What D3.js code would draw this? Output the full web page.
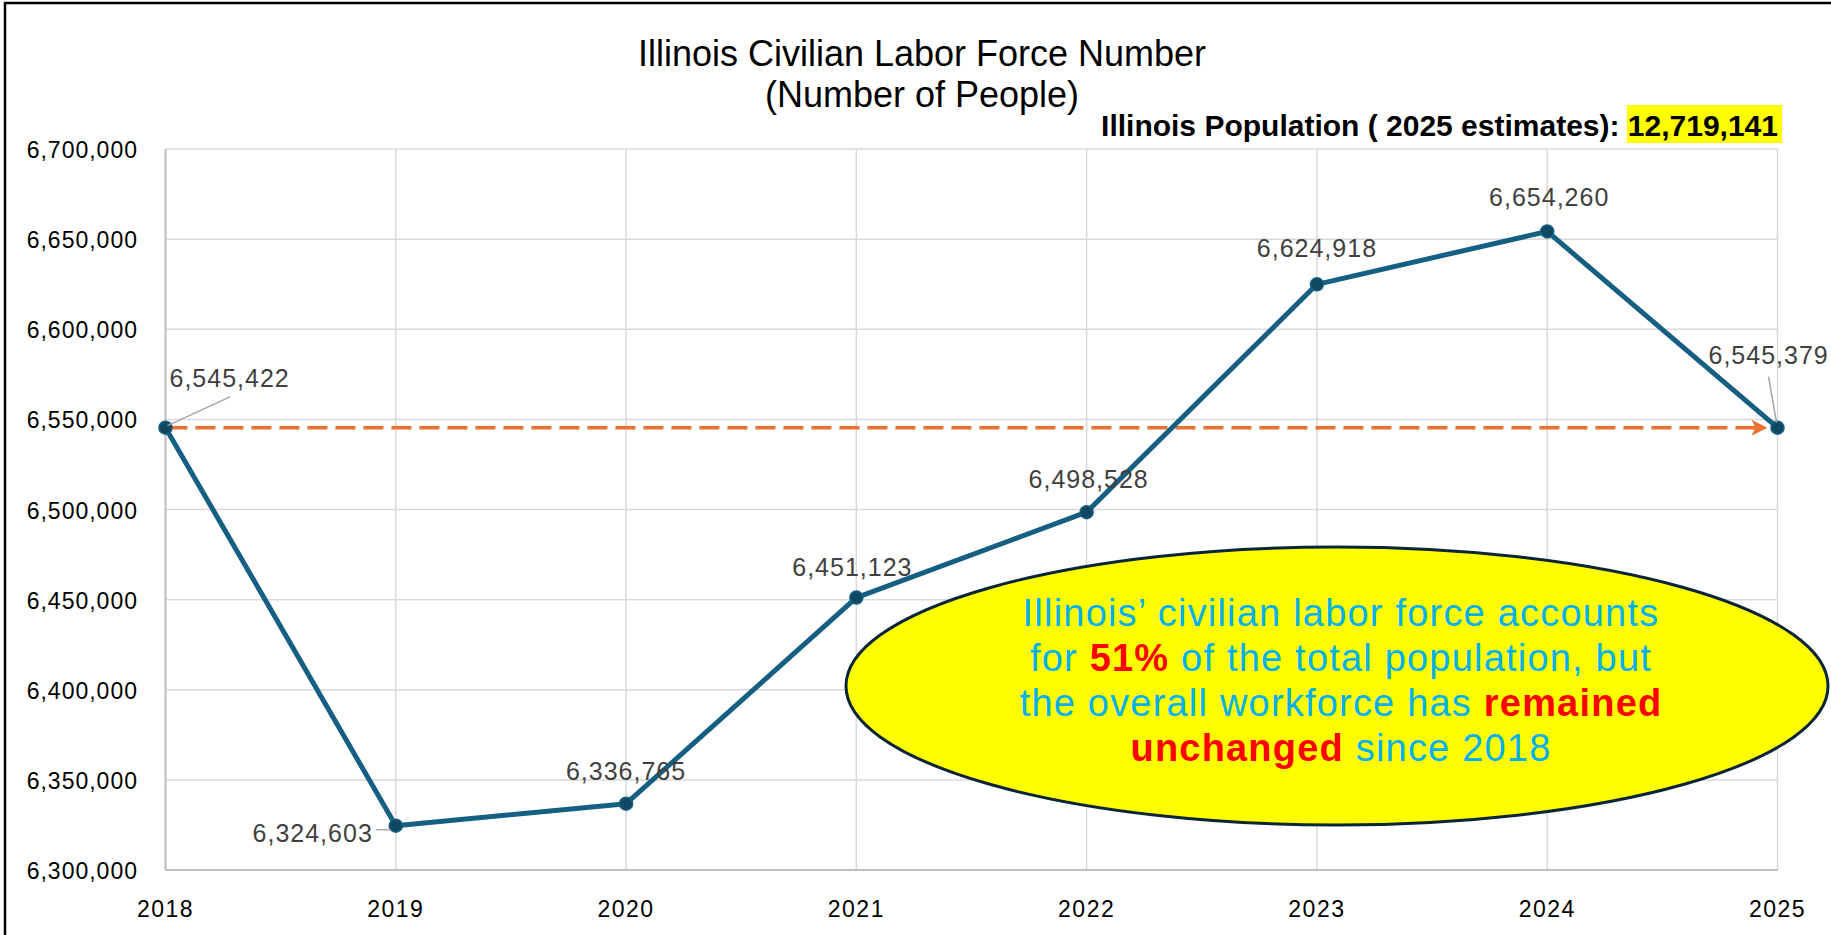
<!DOCTYPE html>
<meta charset="utf-8">
<style>
body { margin: 0; background: #fff; }
svg { display: block; font-family: "Liberation Sans", Arial, sans-serif; }
.grid line { stroke: #d9d9d9; stroke-width: 1.5px; }
.tick-y, .tick-x { fill: #000; letter-spacing: 1px; }
.dlabel { fill: #404040; font-size: 25px; letter-spacing: 1px; }
.leader { stroke: #a6a6a6; stroke-width: 1.5px; }
</style>
<svg></svg>
<script src="https://d3js.org/d3.v7.min.js"></script>
<script>

var width = 1831,
    height = 935;

// chart values
var years = ["2018", "2019", "2020", "2021", "2022", "2023", "2024", "2025"];
var laborForce = [6545422, 6324603, 6336765, 6451123, 6498528, 6624918, 6654260, 6545379];
var yTicks = [6300000, 6350000, 6400000, 6450000, 6500000, 6550000, 6600000, 6650000, 6700000];
var titleLines = ["Illinois Civilian Labor Force Number", "(Number of People)"];
var popLabel = "Illinois Population ( 2025 estimates): ";
var popValue = "12,719,141";

// label placement relative to each point: [dx, dy, anchor]
var labelPos = [
  [4, -41, "start"],
  [-23, 16, "end"],
  [0, -24, "middle"],
  [-4, -22, "middle"],
  [2, -24, "middle"],
  [0, -27, "middle"],
  [2, -25, "middle"],
  [-69, -64, "start"]
];

var svg = d3.select("svg")
    .attr("width", width)
    .attr("height", height);

var x = d3.scalePoint()
    .domain(years)
    .range([165.5, 1777.5]);

var y = d3.scaleLinear()
    .domain([6300000, 6700000])
    .range([870, 149]);

var fmt = d3.format(",");

// outer frame
svg.append("rect")
    .attr("x", 5).attr("y", 3)
    .attr("width", width + 10).attr("height", height + 10)
    .attr("fill", "none")
    .attr("stroke", "#000")
    .attr("stroke-width", 2.5);

// gridlines
var grid = svg.append("g").attr("class", "grid");

grid.selectAll(".h")
    .data(yTicks)
  .enter().append("line")
    .attr("x1", x.range()[0]).attr("x2", x.range()[1])
    .attr("y1", function(d) { return y(d); })
    .attr("y2", function(d) { return y(d); });

grid.selectAll(".v")
    .data(years)
  .enter().append("line")
    .attr("x1", function(d) { return x(d); })
    .attr("x2", function(d) { return x(d); })
    .attr("y1", y.range()[1]).attr("y2", y.range()[0]);

// axis lines
svg.append("line")
    .attr("x1", x.range()[0]).attr("x2", x.range()[1])
    .attr("y1", y(6300000)).attr("y2", y(6300000))
    .attr("stroke", "#bfbfbf").attr("stroke-width", 2);

svg.append("line")
    .attr("x1", x.range()[0]).attr("x2", x.range()[0])
    .attr("y1", y.range()[1]).attr("y2", y.range()[0])
    .attr("stroke", "#bfbfbf").attr("stroke-width", 2);

// tick labels
svg.selectAll(".tick-y")
    .data(yTicks)
  .enter().append("text")
    .attr("class", "tick-y")
    .attr("x", 138)
    .attr("y", function(d) { return y(d) + 9; })
    .attr("text-anchor", "end")
    .style("font-size", "23px")
    .text(function(d) { return fmt(d); });

svg.selectAll(".tick-x")
    .data(years)
  .enter().append("text")
    .attr("class", "tick-x")
    .attr("x", function(d) { return x(d); })
    .attr("y", 917)
    .attr("text-anchor", "middle")
    .style("font-size", "23px")
    .style("letter-spacing", "1.5px")
    .text(function(d) { return d; });

// title
svg.selectAll(".title")
    .data(titleLines)
  .enter().append("text")
    .attr("class", "title")
    .attr("x", 922)
    .attr("y", function(d, i) { return 66 + i * 41; })
    .attr("text-anchor", "middle")
    .style("font-size", "36px")
    .text(function(d) { return d; });

// population note, right aligned to plot edge
var pop = svg.append("text")
    .attr("x", 1778)
    .attr("y", 136)
    .attr("text-anchor", "end")
    .style("font-family", "'Liberation Sans Narrow', 'Liberation Sans', sans-serif")
    .style("font-weight", "bold")
    .style("font-size", "30px");

pop.append("tspan").text(popLabel);
var popNum = pop.append("tspan").text(popValue);

var numLen = popNum.node().getComputedTextLength();
svg.insert("rect", "text")
    .attr("x", 1780 - numLen - 3)
    .attr("y", 105)
    .attr("width", numLen + 5)
    .attr("height", 38)
    .attr("fill", "#ffff00");

// reference arrow at the 2018 level
var yRef = y(laborForce[0]);
var xEnd = x(years[years.length - 1]);
svg.append("line")
    .attr("x1", x(years[0]) + 2)
    .attr("x2", xEnd - 20)
    .attr("y1", yRef).attr("y2", yRef)
    .attr("stroke", "#e97132")
    .attr("stroke-width", 3.5)
    .attr("stroke-dasharray", "20,8");

svg.append("path")
    .attr("d", "M" + (xEnd - 10) + "," + yRef +
               "L" + (xEnd - 26) + "," + (yRef - 8) +
               "L" + (xEnd - 22) + "," + yRef +
               "L" + (xEnd - 26) + "," + (yRef + 8) + "Z")
    .attr("fill", "#e97132");

// data line
var line = d3.line()
    .x(function(d, i) { return x(years[i]); })
    .y(function(d) { return y(d); });

svg.append("path")
    .datum(laborForce)
    .attr("d", line)
    .attr("fill", "none")
    .attr("stroke", "#156082")
    .attr("stroke-width", 5)
    .attr("stroke-linejoin", "round");

svg.selectAll(".dot")
    .data(laborForce)
  .enter().append("circle")
    .attr("class", "dot")
    .attr("cx", function(d, i) { return x(years[i]); })
    .attr("cy", function(d) { return y(d); })
    .attr("r", 6.5)
    .attr("fill", "#104862")
    .attr("stroke", "#156082")
    .attr("stroke-width", 1.5);

// leader lines for the labels that sit away from their point
var p0 = [x(years[0]), y(laborForce[0])],
    p1 = [x(years[1]), y(laborForce[1])],
    p7 = [x(years[7]), y(laborForce[7])];
var leaders = [
  [p0[0] + 2, p0[1] - 2, p0[0] + 65, p0[1] - 31],
  [p1[0] - 20, p1[1] + 4, p1[0] - 5, p1[1] + 4],
  [p7[0] - 9, p7[1] - 51, p7[0] - 1, p7[1] - 5]
];
svg.selectAll(".leader")
    .data(leaders)
  .enter().append("line")
    .attr("class", "leader")
    .attr("x1", function(d) { return d[0]; })
    .attr("y1", function(d) { return d[1]; })
    .attr("x2", function(d) { return d[2]; })
    .attr("y2", function(d) { return d[3]; });

svg.selectAll(".dlabel")
    .data(laborForce)
  .enter().append("text")
    .attr("class", "dlabel")
    .attr("x", function(d, i) { return x(years[i]) + labelPos[i][0]; })
    .attr("y", function(d, i) { return y(d) + labelPos[i][1]; })
    .attr("text-anchor", function(d, i) { return labelPos[i][2]; })
    .text(function(d) { return fmt(d); });

// callout ellipse
svg.append("ellipse")
    .attr("cx", 1337)
    .attr("cy", 686)
    .attr("rx", 491)
    .attr("ry", 139)
    .attr("fill", "#ffff00")
    .attr("stroke", "#0b2536")
    .attr("stroke-width", 3);

var callout = [
  [["Illinois\u2019 civilian labor force accounts", false]],
  [["for ", false], ["51%", true], [" of the total population, but", false]],
  [["the overall workforce has ", false], ["remained", true]],
  [["unchanged", true], [" since 2018", false]]
];

callout.forEach(function(parts, i) {
  var t = svg.append("text")
      .attr("x", 1341)
      .attr("y", 626 + i * 45)
      .attr("text-anchor", "middle")
      .style("font-size", "38px")
      .style("letter-spacing", "1.2px");
  parts.forEach(function(p) {
    t.append("tspan")
        .attr("fill", p[1] ? "#ff0000" : "#00b0f0")
        .style("font-weight", p[1] ? "bold" : "normal")
        .text(p[0]);
  });
});

</script>
